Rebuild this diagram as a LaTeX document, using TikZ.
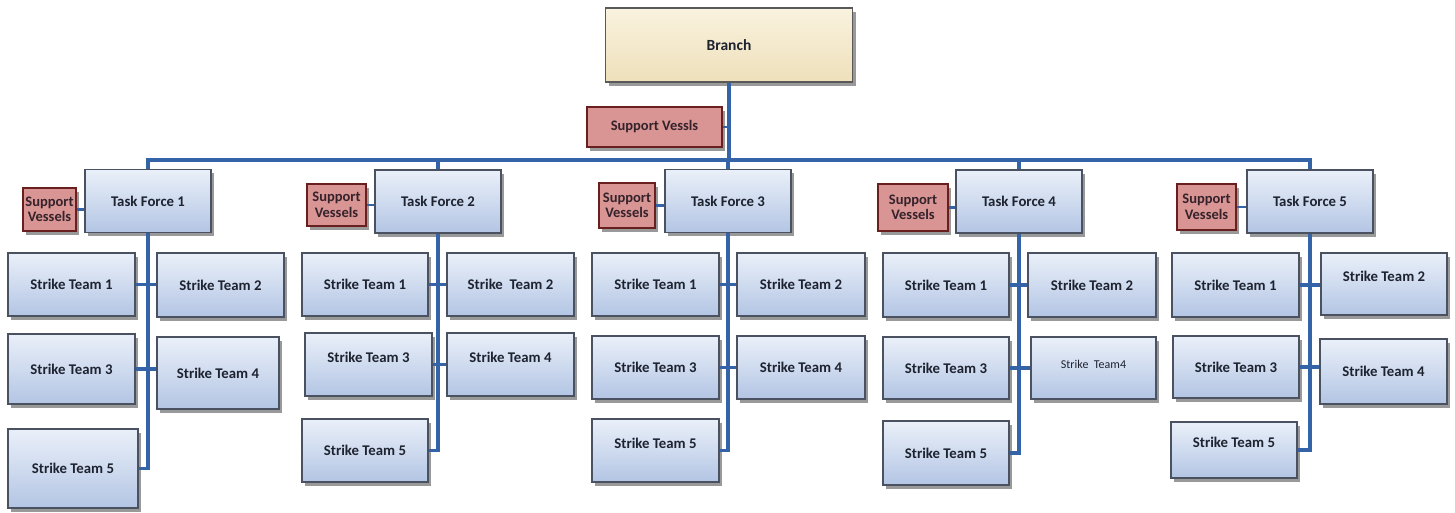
\documentclass[tikz,border=0pt]{standalone}
\usepackage{fontspec}
\setmainfont{Carlito}
\usetikzlibrary{shadows}

\definecolor{linkblue}{HTML}{3563A8}
\definecolor{boxline}{HTML}{4A5262}
\definecolor{boxtop}{HTML}{EAF0F9}
\definecolor{boxbottom}{HTML}{B3C5E4}
\definecolor{vesselfill}{HTML}{D89593}
\definecolor{vesselline}{HTML}{6A1F1F}
\definecolor{headtop}{HTML}{F9F2DE}
\definecolor{headbottom}{HTML}{EEE0BA}
\definecolor{inktext}{HTML}{1E2330}

\begin{document}
\begin{tikzpicture}[x=1pt,y=-1pt,
  shade/.style={drop shadow={shadow xshift=3pt,shadow yshift=-3.5pt,opacity=.4,fill=black}},
  team/.style={shade,draw=boxline,line width=1.1pt,top color=boxtop,bottom color=boxbottom,
    minimum width=127pt,minimum height=63pt,inner sep=1pt,text=inktext,
    font=\bfseries\fontsize{14.8}{16}\selectfont},
  force/.style={team,minimum width=126pt},
  head/.style={team,top color=headtop,bottom color=headbottom,draw=black!65,
    minimum width=247pt,minimum height=74pt,font=\bfseries\fontsize{15.5}{17}\selectfont},
  vessel/.style={shade,draw=vesselline,line width=1.1pt,fill=vesselfill,inner sep=1pt,
    align=center,text=inktext!70!vesselline,font=\bfseries\fontsize{14.5}{15.5}\selectfont},
  high/.style={text depth=15pt},
  link/.style={draw=linkblue,line width=3.4pt},
  thinlink/.style={draw=linkblue,line width=2.4pt}]

\useasboundingbox (0,0) rectangle (1455,512);

\node[head] (branch) at (729,45) {Branch};
\node[vessel,minimum width=135pt,minimum height=40pt] (sv0) at (654.5,127) {Support Vessls};

\node[force] (tf1) at (148,201) {Task Force 1};
\node[force] (tf2) at (438,201.5) {Task Force 2};
\node[force] (tf3) at (728,201) {Task Force 3};
\node[force] (tf4) at (1019,201.5) {Task Force 4};
\node[force] (tf5) at (1310,201.5) {Task Force 5};

\node[vessel,minimum width=53pt,minimum height=43pt] (sv1) at (49.5,209.5) {Support\\Vessels};
\node[vessel,minimum width=59pt,minimum height=42pt] (sv2) at (336.5,205) {Support\\Vessels};
\node[vessel,minimum width=56pt,minimum height=45pt] (sv3) at (627,205.5) {Support\\Vessels};
\node[vessel,minimum width=70pt,minimum height=47pt] (sv4) at (913,207.5) {Support\\Vessels};
\node[vessel,minimum width=59pt,minimum height=46pt] (sv5) at (1206.5,207) {Support\\Vessels};

\node[team] (st11) at (71.5,284.5) {Strike Team 1};
\node[team,minimum height=64pt] (st12) at (220.5,285) {Strike Team 2};
\node[team,minimum height=70pt] (st13) at (71.5,369) {Strike Team 3};
\node[team,minimum width=122pt,minimum height=72pt] (st14) at (218,373) {Strike Team 4};
\node[team,minimum width=130pt,minimum height=79pt] (st15) at (73,468.5) {Strike Team 5};

\node[team,minimum width=126pt] (st21) at (365,284.5) {Strike Team 1};
\node[team] (st22) at (510.5,284.5) {Strike\ \ Team 2};
\node[team,high] (st23) at (368.5,364.5) {Strike Team 3};
\node[team,high] (st24) at (510.5,364.5) {Strike Team 4};
\node[team,minimum width=126pt] (st25) at (365,450.5) {Strike Team 5};

\node[team] (st31) at (655.5,284.5) {Strike Team 1};
\node[team,minimum width=128pt] (st32) at (801,284.5) {Strike Team 2};
\node[team] (st33) at (655.5,367.5) {Strike Team 3};
\node[team,minimum width=128pt] (st34) at (801,367.5) {Strike Team 4};
\node[team,high] (st35) at (655.5,450.5) {Strike Team 5};

\node[team,minimum width=126pt,minimum height=64pt] (st41) at (946,285) {Strike Team 1};
\node[team,minimum width=128pt,minimum height=64pt] (st42) at (1092,285) {Strike Team 2};
\node[team,minimum width=126pt,minimum height=62pt] (st43) at (946,368) {Strike Team 3};
\node[team,minimum width=125pt,minimum height=62pt,font=\mdseries\fontsize{12}{14}\selectfont,text depth=7pt] (st44) at (1093.5,368) {Strike\ \ Team4};
\node[team,minimum width=126pt,minimum height=64pt] (st45) at (946,453) {Strike Team 5};

\node[team,minimum height=64pt] (st51) at (1235.5,285) {Strike Team 1};
\node[team,minimum width=126pt,minimum height=62pt,high] (st52) at (1384,284) {Strike Team 2};
\node[team,minimum width=126pt,minimum height=62pt] (st53) at (1236,367) {Strike Team 3};
\node[team,minimum height=65pt] (st54) at (1383.5,371.5) {Strike Team 4};
\node[team,minimum width=126pt,minimum height=56pt,high] (st55) at (1234,450) {Strike Team 5};

\coordinate (hub) at (729,160);
\draw[link] (branch.south) -- (hub);
\draw[thinlink] (sv0.east) -- (sv0.east -| hub);
\draw[link] (tf1.north) |- (hub) -| (tf5.north);
\draw[link] (tf2.north) -- (tf2.north |- hub);
\draw[link] (tf3.north) -- (tf3.north |- hub);
\draw[link] (tf4.north) -- (tf4.north |- hub);

\draw[link] (tf1.south) |- (st15.east);
\draw[link] (st11.east) -- (st11.east -| st12.west);
\draw[link] (st13.east) -- (st13.east -| st14.west);
\draw[thinlink] (sv1.east) -- (sv1.east -| tf1.west);

\draw[link] (tf2.south) |- (st25.east);
\draw[link] (st21.east) -- (st21.east -| st22.west);
\draw[link] (st23.east) -- (st23.east -| st24.west);
\draw[thinlink] (sv2.east) -- (sv2.east -| tf2.west);

\draw[link] (tf3.south) |- (st35.east);
\draw[link] (st31.east) -- (st31.east -| st32.west);
\draw[link] (st33.east) -- (st33.east -| st34.west);
\draw[thinlink] (sv3.east) -- (sv3.east -| tf3.west);

\draw[link] (tf4.south) |- (st45.east);
\draw[link] (st41.east) -- (st41.east -| st42.west);
\draw[link] (st43.east) -- (st43.east -| st44.west);
\draw[thinlink] (sv4.east) -- (sv4.east -| tf4.west);

\draw[link] (tf5.south) |- (st55.east);
\draw[link] (st51.east) -- (st51.east -| st52.west);
\draw[link] (st53.east) -- (st53.east -| st54.west);
\draw[thinlink] (sv5.east) -- (sv5.east -| tf5.west);
\end{tikzpicture}
\end{document}
